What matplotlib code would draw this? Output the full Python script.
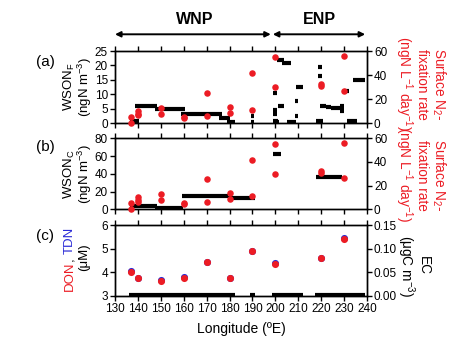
import matplotlib.pyplot as plt

plt.rcParams['font.family'] = ['Liberation Sans', 'DejaVu Sans']
plt.rcParams['mathtext.fontset'] = 'custom'
plt.rcParams['mathtext.rm'] = 'Liberation Sans'
plt.rcParams['mathtext.it'] = 'Liberation Sans:italic'
plt.rcParams['mathtext.bf'] = 'Liberation Sans:bold'

RED = '#ec1c24'
BLUE = '#2b2bd6'

# surface N2 fixation rate (ngN L-1 day-1), same stations in (a) and (b)
n2_lon = [137, 137, 140, 140, 140, 150, 150, 160, 160, 170, 170,
          180, 180, 190, 190, 200, 200, 220, 220, 230, 230]
n2_rate = [0.5, 5.5, 10.2, 8.0, 6.5, 13.0, 7.5, 5.0, 4.4, 25.5, 6.3,
           13.6, 8.3, 42.0, 10.9, 55.0, 30.0, 32.6, 30.5, 56.2, 26.8]

# WSON_F per aerosol sample (longitude span of each sample)
wsonf_start = [136.5, 138.7, 147.5, 158.8, 175.4, 178.7, 189.2, 189.2,
               199.0, 199.0, 199.0, 199.0, 199.5, 200.6, 202.7, 201.0,
               204.9, 208.5, 208.5, 208.9, 218.8, 218.8, 217.6, 217.6,
               219.5, 221.9, 224.2, 226.5, 228.4, 228.4, 228.4, 230.1,
               231.1, 234.0]
wsonf_end = [140.5, 148.2, 160.5, 176.6, 180.2, 182.4, 190.8, 190.8,
             200.6, 200.6, 200.6, 201.0, 201.5, 203.9, 206.8, 203.9,
             208.9, 210.0, 210.0, 212.2, 220.3, 220.3, 220.8, 220.8,
             221.9, 224.2, 226.5, 228.7, 229.9, 229.9, 229.9, 232.1,
             235.5, 239.3]
wsonf_val = [0.8, 5.9, 4.8, 3.3, 1.8, 0.3, 2.5, 0.3,
             10.6, 4.7, 3.1, 0.9, 0.3, 21.8, 21.0, 6.1,
             0.3, 7.8, 2.6, 12.6, 19.6, 16.3, 0.9, 0.3,
             6.1, 5.7, 5.4, 5.1, 5.8, 4.7, 4.3, 11.2,
             0.9, 15.1]

# WSON_C per aerosol sample
wsonc_start = [136.5, 147.5, 159.1, 179.5, 199.1, 217.8]
wsonc_end = [148.2, 159.8, 179.5, 191.1, 202.4, 229.0]
wsonc_val = [3.7, 1.0, 15.2, 12.5, 62.0, 36.5]

# EC per aerosol sample (ugC m-3)
ec_start = [136.2, 188.8, 198.6, 217.5]
ec_end = [182.4, 191.2, 212.2, 239.2]
ec_val = [0.003, 0.003, 0.003, 0.003]

# DON / TDN (uM)
dn_lon = [137, 140, 150, 160, 170, 180, 190, 200, 220, 230]
tdn = [4.07, 3.76, 3.66, 3.80, 4.45, 3.76, 4.92, 4.38, 4.62, 5.44]
don = [4.03, 3.75, 3.62, 3.76, 4.43, 3.75, 4.91, 4.37, 4.61, 5.41]

W_PX, H_PX = 474, 349


def fx(px):
    return px / W_PX


def fy(py):
    return 1 - py / H_PX


def style(ax, show_xlabels=False):
    ax.set_xlim(130, 240)
    ax.set_xticks(range(130, 241, 10))
    ax.tick_params(axis='x', direction='out', top=True, length=3.5,
                   width=1, labelsize=8.5, pad=1.5, labelbottom=show_xlabels)
    ax.tick_params(axis='y', direction='out', length=3.5, width=1,
                   labelsize=8.5, pad=1.5)
    for sp in ax.spines.values():
        sp.set_linewidth(1)


fig = plt.figure(figsize=(4.74, 3.49), dpi=100)
left, width = fx(115), fx(367) - fx(115)
ax_a = fig.add_axes([left, fy(123.2), width, fy(51) - fy(123.2)])
ax_b = fig.add_axes([left, fy(209.3), width, fy(138.3) - fy(209.3)])
ax_c = fig.add_axes([left, fy(296), width, fy(225) - fy(296)])

# (a) WSON_F with N2 fixation
ax_a.hlines(wsonf_val, wsonf_start, wsonf_end, colors='k', lw=3.0)
ax_a.set_ylim(0, 25)
ax_a.set_yticks([0, 5, 10, 15, 20, 25])
style(ax_a)
ax_a2 = ax_a.twinx()
ax_a2.scatter(n2_lon, n2_rate, s=22, color=RED, linewidths=0,
              zorder=3, clip_on=False)
ax_a2.set_ylim(0, 60)
ax_a2.set_yticks([0, 20, 40, 60])
style(ax_a2)

# (b) WSON_C with N2 fixation
ax_b.hlines(wsonc_val, wsonc_start, wsonc_end, colors='k', lw=3.0)
ax_b.set_ylim(0, 80)
ax_b.set_yticks([0, 20, 40, 60, 80])
style(ax_b)
ax_b2 = ax_b.twinx()
ax_b2.scatter(n2_lon, n2_rate, s=22, color=RED, linewidths=0,
              zorder=3, clip_on=False)
ax_b2.set_ylim(0, 60)
ax_b2.set_yticks([0, 20, 40, 60])
style(ax_b2)

# (c) DON/TDN with EC
ax_c.scatter(dn_lon, tdn, s=26, color=BLUE, linewidths=0, zorder=3)
ax_c.scatter(dn_lon, don, s=26, color=RED, linewidths=0, zorder=4)
ax_c.set_ylim(3, 6)
ax_c.set_yticks([3, 4, 5, 6])
style(ax_c, show_xlabels=True)
ax_c.set_xlabel('Longitude (ºE)', fontsize=10, labelpad=5)
ax_c2 = ax_c.twinx()
ax_c2.hlines(ec_val, ec_start, ec_end, colors='k', lw=3.0)
ax_c2.set_ylim(0, 0.15)
ax_c2.set_yticks([0, 0.05, 0.10, 0.15])
ax_c2.set_yticklabels(['0.00', '0.05', '0.10', '0.15'])
style(ax_c2, show_xlabels=True)

# region arrows above panel (a)
arrow_y = (123.2 - 34.3) / 72.2
for x0, x1 in [(130, 198.0), (198.9, 239.2)]:
    ax_a.annotate('', xy=(x0, arrow_y), xytext=(x1, arrow_y),
                  xycoords=('data', 'axes fraction'),
                  textcoords=('data', 'axes fraction'),
                  arrowprops=dict(arrowstyle='<|-|>', color='k', lw=1.4,
                                  mutation_scale=8, shrinkA=0, shrinkB=0))
fig.text(fx(195), fy(19), 'WNP', ha='center', va='center',
         fontsize=11.5, fontweight='bold')
fig.text(fx(319), fy(19), 'ENP', ha='center', va='center',
         fontsize=11.5, fontweight='bold')

# panel letters
for lab, yy in [('(a)', 62), ('(b)', 147), ('(c)', 236)]:
    fig.text(fx(45), fy(yy), lab, ha='center', va='center', fontsize=11)

# left axis titles
fs_left = 9.5
fig.text(fx(78), fy(87), 'WSON$_\\mathregular{F}$\n(ngN m$^{\\mathregular{-3}}$)',
         rotation=90, ha='center', va='center', fontsize=fs_left,
         linespacing=0.95)
fig.text(fx(78), fy(174), 'WSON$_\\mathregular{C}$\n(ngN m$^{\\mathregular{-3}}$)',
         rotation=90, ha='center', va='center', fontsize=fs_left,
         linespacing=0.95)

# right axis titles
n2_title = ('Surface N$_\\mathregular{2}$-\nfixation rate\n'
            '(ngN L$^{\\mathregular{-1}}$ day$^{\\mathregular{-1}}$)')
fig.text(fx(420), fy(84), n2_title, rotation=-90, ha='center', va='center',
         fontsize=9.8, color=RED, linespacing=1.05)
fig.text(fx(420), fy(175), n2_title, rotation=-90, ha='center', va='center',
         fontsize=9.8, color=RED, linespacing=1.05)
fig.text(fx(413), fy(266), 'EC\n(μgC m$^{\\mathregular{-3}}$)', rotation=-90,
         ha='center', va='center', fontsize=9.8, linespacing=1.05)

# "DON, TDN" in two colours, stacked along a rotated line
renderer = fig.canvas.get_renderer()
full = fig.text(0, 0, 'DON, TDN', rotation=90, fontsize=fs_left)
h_full = full.get_window_extent(renderer).height
full.remove()
t_don = fig.text(fx(70), 0, 'DON', rotation=90, ha='center', va='bottom',
                 fontsize=fs_left, color=RED)
t_com = fig.text(fx(70), 0, ',', rotation=90, ha='center', va='bottom',
                 fontsize=fs_left, color='k')
t_tdn = fig.text(fx(70), 0, 'TDN', rotation=90, ha='center', va='bottom',
                 fontsize=fs_left, color=BLUE)
h_don = t_don.get_window_extent(renderer).height
h_tdn = t_tdn.get_window_extent(renderer).height
y_start = (H_PX - 259) - h_full / 2
t_don.set_y(y_start / H_PX)
t_com.set_y((y_start + h_don) / H_PX)
t_tdn.set_y((y_start + h_full - h_tdn) / H_PX)
fig.text(fx(84), fy(257), '(μM)', rotation=90, ha='center', va='center',
         fontsize=fs_left)

fig.savefig('out.png', dpi=100)
